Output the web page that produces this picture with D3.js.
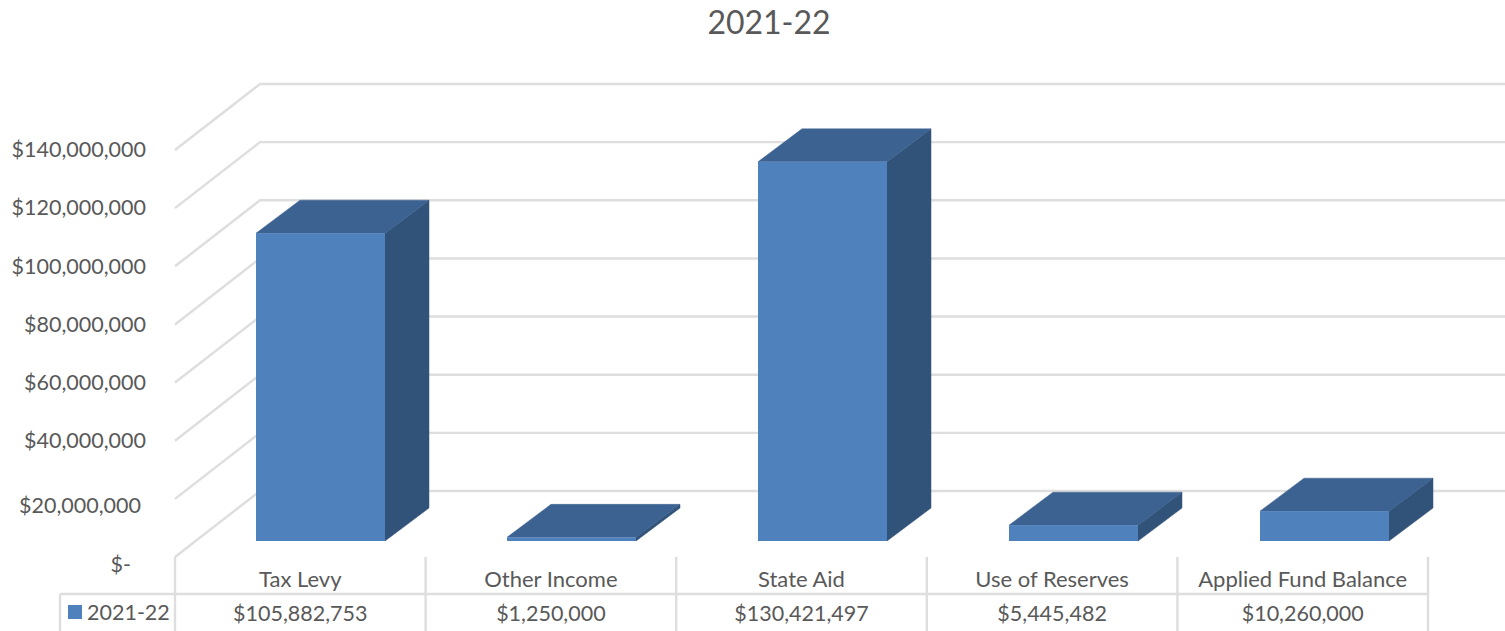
<!DOCTYPE html>
<html>
<head>
<meta charset="utf-8">
<style>
  html, body { margin: 0; padding: 0; background: #fff; overflow: hidden; }
  text { font-family: Lato, "Open Sans", sans-serif; fill: #595959; }
</style>
<script src="https://cdnjs.cloudflare.com/ajax/libs/d3/7.8.5/d3.min.js"></script>
</head>
<body>
<svg id="chart" width="1505" height="631"></svg>
<script>
// Budget revenue sources for the year
const seriesName = "2021-22";
const categories = ["Tax Levy", "Other Income", "State Aid", "Use of Reserves", "Applied Fund Balance"];
const values = [105882753, 1250000, 130421497, 5445482, 10260000];
const valueLabels = ["$105,882,753", "$1,250,000", "$130,421,497", "$5,445,482", "$10,260,000"];
const tickValues = [0, 20000000, 40000000, 60000000, 80000000, 100000000, 120000000, 140000000];

const svg = d3.select("#chart");
const GRID = "#dedede", FRONT = "#4f81bd", TOP = "#3c6291", SIDE = "#325379";

// Oblique projection: the floor recedes up and to the right
const wallDx = 85, wallDy = -66;      // front edge of the floor to the back wall
const barDx = 44, barDy = -33;        // depth of a single column
const barInset = 16;                  // columns stand this far behind the front edge

const x = d3.scaleBand().domain(categories).range([175, 1428]);
const barX = d3.scaleBand().domain(categories).range([256, 1511]);
const y = d3.scaleLinear().domain([0, 140000000]).range([557, 150]);
const barWidth = 129;
const barLeft = c => barX(c);

// Wall and floor gridlines
const grid = svg.append("g").attr("fill", "none").attr("stroke", GRID).attr("stroke-width", 2.4);
grid.selectAll("path").data(tickValues).join("path")
  .attr("d", t => `M${x.range()[0]},${y(t)}L${x.range()[0] + wallDx},${y(t) + wallDy}L1505,${y(t) + wallDy}`);

// Three-sided columns
const bars = svg.append("g").selectAll("g").data(categories).join("g");
const topOf = (c, i) => y(values[i]) - barInset;
const base = y(0) - barInset;

bars.append("path").attr("fill", SIDE).attr("stroke", SIDE).attr("stroke-width", 0.5)
  .attr("d", (c, i) => {
    const r = barLeft(c) + barWidth, t = topOf(c, i);
    return `M${r},${t}L${r + barDx},${t + barDy}L${r + barDx},${base + barDy}L${r},${base}Z`;
  });
bars.append("path").attr("fill", TOP).attr("stroke", TOP).attr("stroke-width", 0.5)
  .attr("d", (c, i) => {
    const l = barLeft(c), t = topOf(c, i);
    return `M${l},${t}L${l + barDx},${t + barDy}L${l + barWidth + barDx},${t + barDy}L${l + barWidth},${t}Z`;
  });
bars.append("rect").attr("fill", FRONT)
  .attr("x", c => barLeft(c))
  .attr("y", (c, i) => topOf(c, i))
  .attr("width", barWidth)
  .attr("height", (c, i) => base - topOf(c, i));

// Value axis; labels sit slightly off their gridlines near the floor
const labelShift = new Map([
  [0, { dx: -15, dy: 7 }],
  [20000000, { dx: -5, dy: 6 }]
]);
const yAxis = svg.append("g")
  .attr("transform", "translate(146,0)")
  .call(d3.axisLeft(y).tickValues(tickValues).tickSize(0).tickPadding(0)
    .tickFormat(d => d === 0 ? "$-" : d3.format("$,")(d)));
yAxis.select(".domain").remove();
yAxis.selectAll("text")
  .attr("font-size", 21.5)
  .style("font-family", "Lato, 'Open Sans', sans-serif")
  .style("fill", "#595959")
  .attr("x", d => (labelShift.get(d) || { dx: 0 }).dx)
  .attr("y", d => (labelShift.get(d) || { dy: -1 }).dy)
  .attr("dy", "0.36em");

// Data table beneath the plot
const table = svg.append("g").attr("stroke", GRID).attr("stroke-width", 2.4);
const edges = categories.map(c => x(c)).concat(x.range()[1]);
table.selectAll("line.v").data(edges).join("line").attr("class", "v")
  .attr("x1", d => d).attr("x2", d => d).attr("y1", 557).attr("y2", 631);
table.append("line").attr("x1", 60).attr("x2", 1428).attr("y1", 594).attr("y2", 594);
table.append("line").attr("x1", 60).attr("x2", 60).attr("y1", 594).attr("y2", 631);

const center = c => x(c) + x.bandwidth() / 2;
svg.append("g").selectAll("text").data(categories).join("text")
  .attr("x", c => center(c)).attr("y", 587)
  .attr("text-anchor", "middle").attr("font-size", 22)
  .text(c => c);
svg.append("g").selectAll("text").data(valueLabels).join("text")
  .attr("x", (d, i) => center(categories[i])).attr("y", 621)
  .attr("text-anchor", "middle").attr("font-size", 21.5)
  .text(d => d);

// Legend key inside the table's first cell
svg.append("rect").attr("x", 68).attr("y", 605).attr("width", 14).attr("height", 14).attr("fill", FRONT);
svg.append("text").attr("x", 87).attr("y", 620).attr("font-size", 21.5).text(seriesName);

// Chart title
svg.append("text").attr("x", 769).attr("y", 34)
  .attr("text-anchor", "middle").attr("font-size", 32).text(seriesName);
</script>
</body>
</html>
